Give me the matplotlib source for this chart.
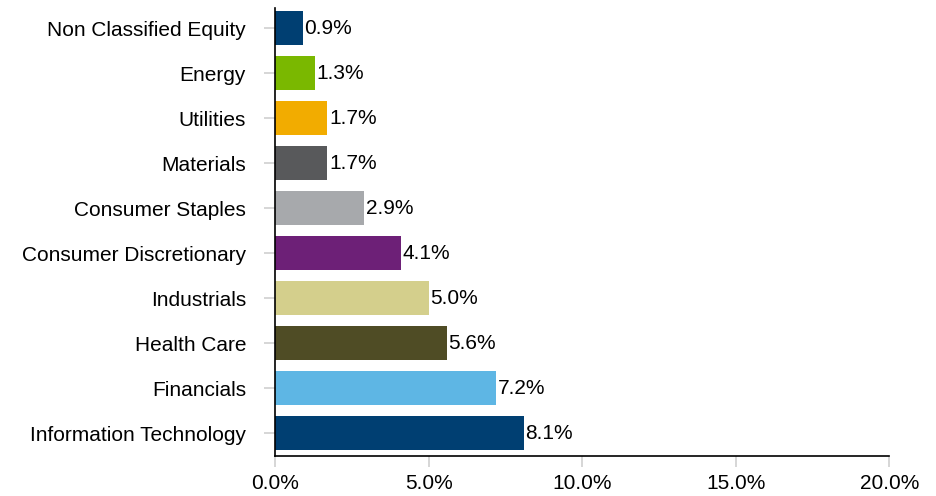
import numpy as np
import matplotlib
matplotlib.use("Agg")
import matplotlib.pyplot as plt

plt.rcParams['font.family'] = ['Liberation Sans', 'DejaVu Sans']

sectors = ["Information Technology", "Financials", "Health Care", "Industrials",
           "Consumer Discretionary", "Consumer Staples", "Materials", "Utilities",
           "Energy", "Non Classified Equity"]
weights = [8.1, 7.2, 5.6, 5.0, 4.1, 2.9, 1.7, 1.7, 1.3, 0.9]
colors = ["#003F72", "#5EB6E4", "#4F4C25", "#D4CF8C", "#6D2077",
          "#A7A9AC", "#58595B", "#F2AC00", "#7AB800", "#003F72"]
xticks = [0, 5, 10, 15, 20]

fig = plt.figure(figsize=(9.36, 4.96), dpi=100)
ax = fig.add_axes([0.294, 0.081, 0.656, 0.903])

y = np.arange(len(sectors))
ax.barh(y, weights, height=0.75, color=colors)
for yi, w in zip(y, weights):
    ax.text(w + 0.05, yi, "%.1f%%" % w, va='center', ha='left', fontsize=15, color='black')

ax.set_xlim(0, 20)
ax.set_ylim(-0.5, 9.45)
ax.set_xticks(xticks)
ax.set_xticklabels(["%.1f%%" % t for t in xticks], fontsize=15)
ax.set_yticks(y)
ax.set_yticklabels(sectors, fontsize=15)

for s in ['top', 'right']:
    ax.spines[s].set_visible(False)
ax.spines['left'].set_color('black')
ax.spines['bottom'].set_color('black')
ax.spines['left'].set_linewidth(1.2)
ax.spines['bottom'].set_linewidth(1.2)
ax.tick_params(axis='both', color='#D0D0D0', width=1.2, length=8)
ax.tick_params(axis='y', pad=13)
ax.tick_params(axis='x', pad=5)

fig.savefig("out.png", dpi=100)
